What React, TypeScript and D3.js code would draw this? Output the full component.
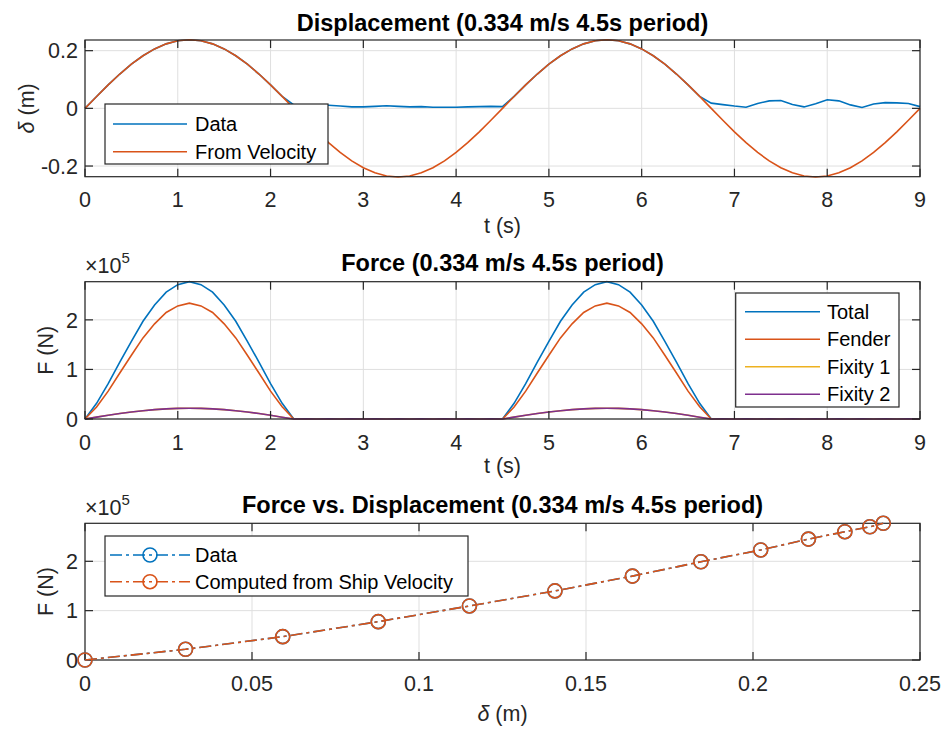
import React from 'react';
import * as d3 from 'd3';

// ---------- data ----------
const TIME = [
  0, 0.125, 0.25, 0.375, 0.5, 0.625, 0.75, 0.875, 1, 1.125, 1.25, 1.375, 1.5, 1.625, 1.75, 1.875, 2, 2.125, 2.25,
  2.375, 2.5, 2.625, 2.75, 2.875, 3, 3.125, 3.25, 3.375, 3.5, 3.625, 3.75, 3.875, 4, 4.125, 4.25, 4.375, 4.5,
  4.625, 4.75, 4.875, 5, 5.125, 5.25, 5.375, 5.5, 5.625, 5.75, 5.875, 6, 6.125, 6.25, 6.375, 6.5, 6.625, 6.75,
  6.875, 7, 7.125, 7.25, 7.375, 7.5, 7.625, 7.75, 7.875, 8, 8.125, 8.25, 8.375, 8.5, 8.625, 8.75, 8.875, 9,
];

// displacement (m)
const DISP_DATA = [
  0, 0.0413, 0.0814, 0.119, 0.153, 0.1823, 0.2061, 0.2236, 0.2344, 0.238, 0.2344, 0.2236, 0.2061, 0.1823, 0.153, 0.119, 0.0814, 0.0413, 0.012,
  0.012, 0.011, 0.011, 0.008, 0.005, 0.005, 0.007, 0.009, 0.007, 0.005, 0.006, 0.004, 0.004, 0.004, 0.005, 0.006, 0.007, 0.006,
  0.0413, 0.0814, 0.119, 0.153, 0.1823, 0.2061, 0.2236, 0.2344, 0.238, 0.2344, 0.2236, 0.2061, 0.1823, 0.153, 0.119, 0.0814, 0.0413, 0.018,
  0.013, 0.008, 0.004, 0.017, 0.026, 0.027, 0.013, 0.005, 0.016, 0.03, 0.026, 0.012, 0.003, 0.015, 0.02, 0.019, 0.017, 0.006,
];
const DISP_VEL = [
  0, 0.0413, 0.0814, 0.119, 0.153, 0.1823, 0.2061, 0.2236, 0.2344, 0.238, 0.2344, 0.2236, 0.2061, 0.1823, 0.153, 0.119, 0.0814, 0.0413, 0,
  -0.0413, -0.0814, -0.119, -0.153, -0.1823, -0.2061, -0.2236, -0.2344, -0.238, -0.2344, -0.2236, -0.2061, -0.1823, -0.153, -0.119, -0.0814, -0.0413, 0,
  0.0413, 0.0814, 0.119, 0.153, 0.1823, 0.2061, 0.2236, 0.2344, 0.238, 0.2344, 0.2236, 0.2061, 0.1823, 0.153, 0.119, 0.0814, 0.0413, 0,
  -0.0413, -0.0814, -0.119, -0.153, -0.1823, -0.2061, -0.2236, -0.2344, -0.238, -0.2344, -0.2236, -0.2061, -0.1823, -0.153, -0.119, -0.0814, -0.0413, 0,
];

// forces (x 10^5 N)
const F_TOTAL = [
  0, 0.317, 0.712, 1.147, 1.568, 1.972, 2.3, 2.56, 2.71, 2.77, 2.71, 2.56, 2.3, 1.972, 1.568, 1.147, 0.712, 0.317, 0,
  0.003, 0.002, 0.004, 0.001, 0.003, 0.002, 0.004, 0.002, 0.001, 0.003, 0.002, 0.004, 0.002, 0.003, 0.001, 0.002, 0.003, 0,
  0.317, 0.712, 1.147, 1.568, 1.972, 2.3, 2.56, 2.71, 2.77, 2.71, 2.56, 2.3, 1.972, 1.568, 1.147, 0.712, 0.317, 0,
  0.003, 0.002, 0.004, 0.002, 0.003, 0.001, 0.004, 0.002, 0.003, 0.002, 0.004, 0.001, 0.003, 0.002, 0.003, 0.002, 0.004, 0.002,
];
const F_FENDER = [
  0, 0.241, 0.562, 0.927, 1.286, 1.636, 1.92, 2.15, 2.282, 2.338, 2.282, 2.15, 1.92, 1.636, 1.286, 0.927, 0.562, 0.247, 0,
  0.002, 0.001, 0.003, 0.001, 0.002, 0.001, 0.003, 0.001, 0.001, 0.002, 0.001, 0.003, 0.001, 0.002, 0.001, 0.001, 0.002, 0,
  0.241, 0.562, 0.927, 1.286, 1.636, 1.92, 2.15, 2.282, 2.338, 2.282, 2.15, 1.92, 1.636, 1.286, 0.927, 0.562, 0.247, 0,
  0.002, 0.001, 0.003, 0.001, 0.002, 0.001, 0.003, 0.001, 0.002, 0.001, 0.003, 0.001, 0.002, 0.001, 0.002, 0.001, 0.003, 0.001,
];
const F_FIX1 = [
  0, 0.038, 0.075, 0.11, 0.141, 0.168, 0.19, 0.205, 0.214, 0.216, 0.214, 0.205, 0.19, 0.168, 0.141, 0.11, 0.075, 0.035, 0,
  0.001, 0.002, 0.001, 0.002, 0.001, 0.002, 0.001, 0.002, 0.001, 0.002, 0.001, 0.002, 0.001, 0.002, 0.001, 0.002, 0.001, 0,
  0.038, 0.075, 0.11, 0.141, 0.168, 0.19, 0.205, 0.214, 0.216, 0.214, 0.205, 0.19, 0.168, 0.141, 0.11, 0.075, 0.035, 0,
  0.001, 0.002, 0.001, 0.002, 0.001, 0.002, 0.001, 0.002, 0.001, 0.002, 0.001, 0.002, 0.001, 0.002, 0.001, 0.002, 0.001, 0.002,
];
const F_FIX2 = [
  0, 0.038, 0.075, 0.11, 0.141, 0.168, 0.19, 0.205, 0.214, 0.216, 0.214, 0.205, 0.19, 0.168, 0.141, 0.11, 0.075, 0.035, 0,
  0.002, 0.001, 0.002, 0.001, 0.002, 0.001, 0.002, 0.001, 0.002, 0.001, 0.002, 0.001, 0.002, 0.001, 0.002, 0.001, 0.002, 0,
  0.038, 0.075, 0.11, 0.141, 0.168, 0.19, 0.205, 0.214, 0.216, 0.214, 0.205, 0.19, 0.168, 0.141, 0.11, 0.075, 0.035, 0,
  0.002, 0.001, 0.002, 0.001, 0.002, 0.001, 0.002, 0.001, 0.002, 0.001, 0.002, 0.001, 0.002, 0.001, 0.002, 0.001, 0.002, 0.001,
];

// force vs displacement
const FD_DISP_DATA = [0, 0.0301, 0.0592, 0.0878, 0.1151, 0.1407, 0.1639, 0.1844, 0.2023, 0.2166, 0.2275, 0.235, 0.239];
const FD_FORCE_DATA = [0, 0.217, 0.473, 0.777, 1.095, 1.4, 1.7, 1.99, 2.23, 2.45, 2.6, 2.7, 2.77];
const FD_DISP_VEL = [0, 0.0301, 0.0592, 0.0878, 0.1151, 0.1407, 0.1639, 0.1844, 0.2023, 0.2166, 0.2275, 0.235, 0.239];
const FD_FORCE_VEL = [0, 0.217, 0.473, 0.777, 1.095, 1.4, 1.7, 1.99, 2.23, 2.45, 2.6, 2.7, 2.77];

const T_TICKS = [0, 1, 2, 3, 4, 5, 6, 7, 8, 9];
const DISP_TICKS = [-0.2, 0, 0.2];
const DISP_TICK_LABELS = ['-0.2', '0', '0.2'];
const F_TICKS = [0, 1, 2];
const F_TICK_LABELS = ['0', '1', '2'];
const D_TICKS = [0, 0.05, 0.1, 0.15, 0.2, 0.25];
const D_TICK_LABELS = ['0', '0.05', '0.1', '0.15', '0.2', '0.25'];

const TITLES = [
  'Displacement (0.334 m/s 4.5s period)',
  'Force (0.334 m/s 4.5s period)',
  'Force vs. Displacement (0.334 m/s 4.5s period)',
];

// ---------- style ----------
const FONT = "'Liberation Sans', Arial, Helvetica, sans-serif";
const AX = '#262626';
const GRID = '#dfdfdf';
const C1 = '#0072BD';
const C2 = '#D95319';
const C3 = '#EDB120';
const C4 = '#7E2F8E';
const TICK_FS = 21.5;
const LEG_FS = 20;
const TITLE_FS = 23.5;
const X0 = 85;
const X1 = 920;
const TL = 8;

type Panel = { top: number; bottom: number };
const P1: Panel = { top: 40, bottom: 176.7 };
const P2: Panel = { top: 281.7, bottom: 419 };
const P3: Panel = { top: 523.3, bottom: 660 };

function Frame(props: {
  p: Panel;
  x: d3.ScaleLinear<number, number>;
  y: d3.ScaleLinear<number, number>;
  xTicks: number[];
  xLabels: string[];
  yTicks: number[];
  yLabels: string[];
  layer: 'grid' | 'box';
}) {
  const { p, x, y, xTicks, xLabels, yTicks, yLabels, layer } = props;
  if (layer === 'grid') {
    return (
      <g>
        {xTicks.map((t, i) => (
          <line key={'gx' + i} x1={x(t)} x2={x(t)} y1={p.top} y2={p.bottom} stroke={GRID} strokeWidth={1} />
        ))}
        {yTicks.map((t, i) => (
          <line key={'gy' + i} x1={X0} x2={X1} y1={y(t)} y2={y(t)} stroke={GRID} strokeWidth={1} />
        ))}
      </g>
    );
  }
  return (
    <g>
      <rect x={X0} y={p.top} width={X1 - X0} height={p.bottom - p.top} fill="none" stroke={AX} strokeWidth={1.2} />
      {xTicks.map((t, i) => (
        <g key={'tx' + i}>
          <line x1={x(t)} x2={x(t)} y1={p.bottom} y2={p.bottom - TL} stroke={AX} strokeWidth={1.2} />
          <line x1={x(t)} x2={x(t)} y1={p.top} y2={p.top + TL} stroke={AX} strokeWidth={1.2} />
          <text x={x(t)} y={p.bottom + 30.5} textAnchor="middle" fontSize={TICK_FS} fill={AX} fontFamily={FONT}>
            {xLabels[i]}
          </text>
        </g>
      ))}
      {yTicks.map((t, i) => (
        <g key={'ty' + i}>
          <line x1={X0} x2={X0 + TL} y1={y(t)} y2={y(t)} stroke={AX} strokeWidth={1.2} />
          <line x1={X1} x2={X1 - TL} y1={y(t)} y2={y(t)} stroke={AX} strokeWidth={1.2} />
          <text x={X0 - 7} y={y(t) + 7.7} textAnchor="end" fontSize={TICK_FS} fill={AX} fontFamily={FONT}>
            {yLabels[i]}
          </text>
        </g>
      ))}
    </g>
  );
}

function Exponent({ y }: { y: number }) {
  return (
    <text x={X0} y={y} fontSize={TICK_FS} fill={AX} fontFamily={FONT}>
      ×10
      <tspan dy={-10} fontSize={15}>
        5
      </tspan>
    </text>
  );
}

export default function App() {
  const xT = d3.scaleLinear().domain([0, 9]).range([X0, X1]);
  const xD = d3.scaleLinear().domain([0, 0.25]).range([X0, X1]);
  const y1 = d3.scaleLinear().domain([-0.237, 0.237]).range([P1.bottom, P1.top]);
  const y2 = d3.scaleLinear().domain([0, 2.77]).range([P2.bottom, P2.top]);
  const y3 = d3.scaleLinear().domain([0, 2.77]).range([P3.bottom, P3.top]);

  const lineT = (vals: number[], ys: d3.ScaleLinear<number, number>) =>
    d3
      .line<number>()
      .x((_, i) => xT(TIME[i]))
      .y((v) => ys(v))(vals) || '';

  const lineFD = (xs: number[], fs: number[]) =>
    d3
      .line<number>()
      .x((v) => xD(v))
      .y((_, i) => y3(fs[i]))(xs) || '';

  const lw = 1.6;
  const dash = '12,4,3,4';

  return (
    <svg
      width={947}
      height={729}
      style={{ position: 'absolute', left: 0, top: 0, background: '#fff' }}
      fontFamily={FONT}
    >
      <rect x={0} y={0} width={947} height={729} fill="#fff" />

      {/* ---------- Panel 1 ---------- */}
      <Frame p={P1} x={xT} y={y1} xTicks={T_TICKS} xLabels={T_TICKS.map(String)} yTicks={DISP_TICKS} yLabels={DISP_TICK_LABELS} layer="grid" />
      <path d={lineT(DISP_DATA, y1)} fill="none" stroke={C1} strokeWidth={lw} />
      <path d={lineT(DISP_VEL, y1)} fill="none" stroke={C2} strokeWidth={lw} />
      <Frame p={P1} x={xT} y={y1} xTicks={T_TICKS} xLabels={T_TICKS.map(String)} yTicks={DISP_TICKS} yLabels={DISP_TICK_LABELS} layer="box" />
      <text x={(X0 + X1) / 2} y={30.5} textAnchor="middle" fontSize={TITLE_FS} fontWeight="bold" fill="#000">
        {TITLES[0]}
      </text>
      <text x={(X0 + X1) / 2} y={233} textAnchor="middle" fontSize={TICK_FS} fill={AX}>
        t (s)
      </text>
      <text transform={`translate(34,${(P1.top + P1.bottom) / 2}) rotate(-90)`} textAnchor="middle" fontSize={TICK_FS} fill={AX}>
        <tspan fontStyle="italic">δ</tspan> (m)
      </text>
      {/* legend 1 */}
      <g>
        <rect x={105} y={104} width={223} height={60} fill="#fff" stroke={AX} strokeWidth={1.2} />
        <line x1={113} x2={187} y1={124} y2={124} stroke={C1} strokeWidth={lw} />
        <text x={195} y={131} fontSize={LEG_FS} fill="#000">Data</text>
        <line x1={113} x2={187} y1={151.7} y2={151.7} stroke={C2} strokeWidth={lw} />
        <text x={195} y={158.7} fontSize={LEG_FS} fill="#000">From Velocity</text>
      </g>

      {/* ---------- Panel 2 ---------- */}
      <Frame p={P2} x={xT} y={y2} xTicks={T_TICKS} xLabels={T_TICKS.map(String)} yTicks={F_TICKS} yLabels={F_TICK_LABELS} layer="grid" />
      <path d={lineT(F_TOTAL, y2)} fill="none" stroke={C1} strokeWidth={lw} />
      <path d={lineT(F_FENDER, y2)} fill="none" stroke={C2} strokeWidth={lw} />
      <path d={lineT(F_FIX1, y2)} fill="none" stroke={C3} strokeWidth={lw} />
      <path d={lineT(F_FIX2, y2)} fill="none" stroke={C4} strokeWidth={lw} />
      <Frame p={P2} x={xT} y={y2} xTicks={T_TICKS} xLabels={T_TICKS.map(String)} yTicks={F_TICKS} yLabels={F_TICK_LABELS} layer="box" />
      <text x={(X0 + X1) / 2} y={271} textAnchor="middle" fontSize={TITLE_FS} fontWeight="bold" fill="#000">
        {TITLES[1]}
      </text>
      <Exponent y={273} />
      <text x={(X0 + X1) / 2} y={473} textAnchor="middle" fontSize={TICK_FS} fill={AX}>
        t (s)
      </text>
      <text transform={`translate(53,${(P2.top + P2.bottom) / 2}) rotate(-90)`} textAnchor="middle" fontSize={TICK_FS} fill={AX}>
        F (N)
      </text>
      {/* legend 2 */}
      <g>
        <rect x={735.7} y={293} width={163.3} height={114} fill="#fff" stroke={AX} strokeWidth={1.2} />
        {[
          { n: 'Total', c: C1 },
          { n: 'Fender', c: C2 },
          { n: 'Fixity 1', c: C3 },
          { n: 'Fixity 2', c: C4 },
        ].map((e, i) => {
          const yy = 311.7 + i * 27.5;
          return (
            <g key={e.n}>
              <line x1={745} x2={820} y1={yy} y2={yy} stroke={e.c} strokeWidth={lw} />
              <text x={827} y={yy + 7} fontSize={LEG_FS} fill="#000">{e.n}</text>
            </g>
          );
        })}
      </g>

      {/* ---------- Panel 3 ---------- */}
      <Frame p={P3} x={xD} y={y3} xTicks={D_TICKS} xLabels={D_TICK_LABELS} yTicks={F_TICKS} yLabels={F_TICK_LABELS} layer="grid" />
      <Frame p={P3} x={xD} y={y3} xTicks={D_TICKS} xLabels={D_TICK_LABELS} yTicks={F_TICKS} yLabels={F_TICK_LABELS} layer="box" />
      <path d={lineFD(FD_DISP_DATA, FD_FORCE_DATA)} fill="none" stroke={C1} strokeWidth={lw} strokeDasharray={dash} />
      {FD_DISP_DATA.map((v, i) => (
        <circle key={'bd' + i} cx={xD(v)} cy={y3(FD_FORCE_DATA[i])} r={7} fill="none" stroke={C1} strokeWidth={1.6} />
      ))}
      <path d={lineFD(FD_DISP_VEL, FD_FORCE_VEL)} fill="none" stroke={C2} strokeWidth={lw} strokeDasharray={dash} />
      {FD_DISP_VEL.map((v, i) => (
        <circle key={'od' + i} cx={xD(v)} cy={y3(FD_FORCE_VEL[i])} r={7} fill="none" stroke={C2} strokeWidth={1.6} />
      ))}
      <text x={(X0 + X1) / 2} y={513} textAnchor="middle" fontSize={TITLE_FS} fontWeight="bold" fill="#000">
        {TITLES[2]}
      </text>
      <Exponent y={515} />
      <text x={(X0 + X1) / 2} y={721} textAnchor="middle" fontSize={TICK_FS} fill={AX}>
        <tspan fontStyle="italic">δ</tspan> (m)
      </text>
      <text transform={`translate(53,${(P3.top + P3.bottom) / 2}) rotate(-90)`} textAnchor="middle" fontSize={TICK_FS} fill={AX}>
        F (N)
      </text>
      {/* legend 3 */}
      <g>
        <rect x={105} y={536} width={363} height={60} fill="#fff" stroke={AX} strokeWidth={1.2} />
        <line x1={110} x2={190} y1={555} y2={555} stroke={C1} strokeWidth={lw} strokeDasharray={dash} />
        <circle cx={150} cy={555} r={7} fill="none" stroke={C1} strokeWidth={1.6} />
        <text x={195} y={562} fontSize={LEG_FS} fill="#000">Data</text>
        <line x1={110} x2={190} y1={581.7} y2={581.7} stroke={C2} strokeWidth={lw} strokeDasharray={dash} />
        <circle cx={150} cy={581.7} r={7} fill="none" stroke={C2} strokeWidth={1.6} />
        <text x={195} y={588.7} fontSize={LEG_FS} fill="#000">Computed from Ship Velocity</text>
      </g>
    </svg>
  );
}
